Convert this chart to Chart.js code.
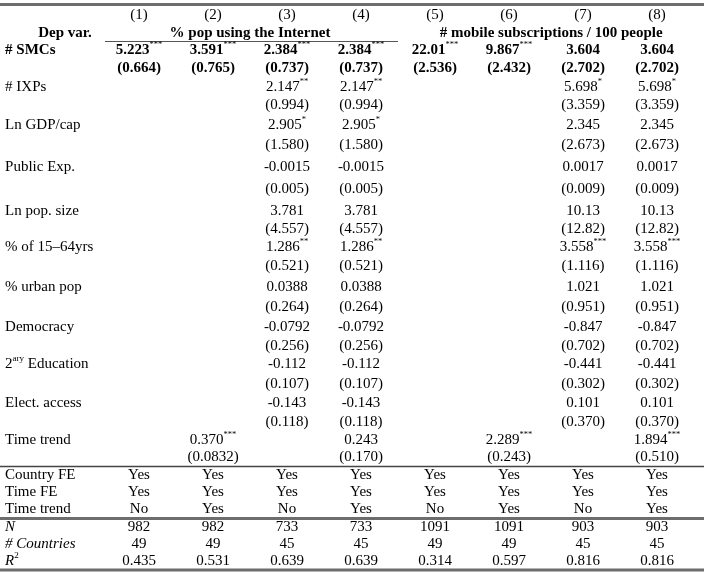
<!DOCTYPE html>
<html><head><meta charset="utf-8">
<script src="https://cdn.jsdelivr.net/npm/chart.js@4.4.0/dist/chart.umd.min.js"></script>
<style>html,body{margin:0;padding:0;background:#fff;}#wrap{width:704px;height:574px;}</style>
</head><body><div id="wrap"><canvas id="c" width="704" height="574"></canvas></div>
<script>
// ---------------- DATA ----------------
const columnLabels = ['(1)','(2)','(3)','(4)','(5)','(6)','(7)','(8)'];
const depVarTitle = 'Dep var.';
const depVarNames = ['% pop using the Internet', '# mobile subscriptions / 100 people'];
const variables = ['# SMCs','# IXPs','Ln GDP/cap','Public Exp.','Ln pop. size','% of 15–64yrs','% urban pop','Democracy','2|ary| Education','Elect. access','Time trend'];

const coefSMCs   = ['5.223','3.591','2.384','2.384','22.01','9.867','3.604','3.604'];
const starsSMCs  = [3,3,3,3,3,3,0,0];
const seSMCs     = ['(0.664)','(0.765)','(0.737)','(0.737)','(2.536)','(2.432)','(2.702)','(2.702)'];
const coefIXPs   = [null,null,'2.147','2.147',null,null,'5.698','5.698'];
const starsIXPs  = [0,0,2,2,0,0,1,1];
const seIXPs     = [null,null,'(0.994)','(0.994)',null,null,'(3.359)','(3.359)'];
const coefGDP    = [null,null,'2.905','2.905',null,null,'2.345','2.345'];
const starsGDP   = [0,0,1,1,0,0,0,0];
const seGDP      = [null,null,'(1.580)','(1.580)',null,null,'(2.673)','(2.673)'];
const coefPubExp = [null,null,'-0.0015','-0.0015',null,null,'0.0017','0.0017'];
const starsPubExp= [0,0,0,0,0,0,0,0];
const sePubExp   = [null,null,'(0.005)','(0.005)',null,null,'(0.009)','(0.009)'];
const coefPop    = [null,null,'3.781','3.781',null,null,'10.13','10.13'];
const starsPop   = [0,0,0,0,0,0,0,0];
const sePop      = [null,null,'(4.557)','(4.557)',null,null,'(12.82)','(12.82)'];
const coefAge    = [null,null,'1.286','1.286',null,null,'3.558','3.558'];
const starsAge   = [0,0,2,2,0,0,3,3];
const seAge      = [null,null,'(0.521)','(0.521)',null,null,'(1.116)','(1.116)'];
const coefUrban  = [null,null,'0.0388','0.0388',null,null,'1.021','1.021'];
const starsUrban = [0,0,0,0,0,0,0,0];
const seUrban    = [null,null,'(0.264)','(0.264)',null,null,'(0.951)','(0.951)'];
const coefDemo   = [null,null,'-0.0792','-0.0792',null,null,'-0.847','-0.847'];
const starsDemo  = [0,0,0,0,0,0,0,0];
const seDemo     = [null,null,'(0.256)','(0.256)',null,null,'(0.702)','(0.702)'];
const coefEduc   = [null,null,'-0.112','-0.112',null,null,'-0.441','-0.441'];
const starsEduc  = [0,0,0,0,0,0,0,0];
const seEduc     = [null,null,'(0.107)','(0.107)',null,null,'(0.302)','(0.302)'];
const coefElect  = [null,null,'-0.143','-0.143',null,null,'0.101','0.101'];
const starsElect = [0,0,0,0,0,0,0,0];
const seElect    = [null,null,'(0.118)','(0.118)',null,null,'(0.370)','(0.370)'];
const coefTrend  = [null,'0.370',null,'0.243',null,'2.289',null,'1.894'];
const starsTrend = [0,3,0,0,0,3,0,3];
const seTrend    = [null,'(0.0832)',null,'(0.170)',null,'(0.243)',null,'(0.510)'];

const footerLabels = ['Country FE','Time FE','Time trend','*N*','*# Countries*','*R*|2|'];
const countryFE  = ['Yes','Yes','Yes','Yes','Yes','Yes','Yes','Yes'];
const timeFE     = ['Yes','Yes','Yes','Yes','Yes','Yes','Yes','Yes'];
const timeTrend  = ['No','Yes','No','Yes','No','Yes','No','Yes'];
const nObs       = ['982','982','733','733','1091','1091','903','903'];
const nCountries = ['49','49','45','45','49','49','45','45'];
const rSquared   = ['0.435','0.531','0.639','0.639','0.314','0.597','0.816','0.816'];

// ---------------- LAYOUT (positions & styles) ----------------
const coefTable = [
  [coefSMCs,starsSMCs,seSMCs],[coefIXPs,starsIXPs,seIXPs],[coefGDP,starsGDP,seGDP],
  [coefPubExp,starsPubExp,sePubExp],[coefPop,starsPop,sePop],[coefAge,starsAge,seAge],
  [coefUrban,starsUrban,seUrban],[coefDemo,starsDemo,seDemo],[coefEduc,starsEduc,seEduc],
  [coefElect,starsElect,seElect],[coefTrend,starsTrend,seTrend]
];
const footerTable = [countryFE,timeFE,timeTrend,nObs,nCountries,rSquared];
const coefRowY = [50,87,125,167,211,247,287,327,364,403,440];
const seRowY   = [68,105,145,189,229,266,307,346,384,422,457];
const footRowY = [475,492,509,527,544,561];
const colHeadY = 15, depVarY = 33;
const labelX = -0.81;             // x-units of the row-label anchor
const depVarCenters = [2.5, 6.57];
const boldRows = [0];
const rules = [
  {y:4.5, x0:-0.88, x1:8.64, w:3, c:'#6d6d6d'},
  {y:41.5, x0:0.54, x1:4.5, w:1, c:'#555'},
  {y:466.5, x0:-0.88, x1:8.64, w:1.5, c:'#444'},
  {y:518.5, x0:-0.88, x1:8.64, w:3, c:'#6d6d6d'},
  {y:570, x0:-0.88, x1:8.64, w:3, c:'#6d6d6d'}
];
const FONT = 'Liberation Serif';
const FS = 15, SUP = 9, STAR = 8.5;

// build cells
const cells = [];
function add(x,y,text,opt){ cells.push(Object.assign({x,y,text,align:'center',bold:false,stars:0},opt||{})); }
add(0, depVarY, depVarTitle, {bold:true});
depVarNames.forEach((t,i)=>add(depVarCenters[i], depVarY, t, {bold:true}));
columnLabels.forEach((t,i)=>add(i+1, colHeadY, t));
variables.forEach((v,r)=>{
  const b = boldRows.includes(r);
  add(labelX, coefRowY[r], v, {align:'left', bold:b});
  const [coef,stars,se] = coefTable[r];
  coef.forEach((c,i)=>{ if(c!==null) add(i+1, coefRowY[r], c, {bold:b, stars:stars[i]}); });
  se.forEach((s,i)=>{ if(s!==null) add(i+1, seRowY[r], s, {bold:b}); });
});
footerLabels.forEach((l,r)=>{
  add(labelX, footRowY[r], l, {align:'left'});
  footerTable[r].forEach((v,i)=>add(i+1, footRowY[r], v));
});

// parse "*italic*" and "|sup|" markup into segments
function segs(text, stars){
  const out=[]; let italic=false, sup=false, buf='';
  const hasItalic = /\*[^*]+\*/.test(text);
  const flush=()=>{ if(buf){out.push({t:buf,italic,sup}); buf='';} };
  for(const ch of text){
    if(ch==='*' && hasItalic){ flush(); italic=!italic; continue; }
    if(ch==='|'){ flush(); sup=!sup; continue; }
    buf+=ch;
  }
  flush();
  if(stars>0) out.push({t:'*'.repeat(stars), star:true});
  return out;
}
function fontFor(s,bold){
  if(s.star) return `${STAR}px "${FONT}"`;
  return `${s.italic?'italic ':''}${bold?'bold ':''}${s.sup?SUP:FS}px "${FONT}"`;
}

const tablePlugin = {
  id:'tablePlugin',
  beforeDraw(chart){
    const ctx=chart.ctx; ctx.save(); ctx.fillStyle='#fff'; ctx.fillRect(0,0,chart.width,chart.height); ctx.restore();
  },
  afterDatasetsDraw(chart){
    const ctx=chart.ctx, xs=chart.scales.x, ys=chart.scales.y;
    ctx.save();
    rules.forEach(r=>{
      ctx.strokeStyle=r.c; ctx.lineWidth=r.w; ctx.beginPath();
      const y=ys.getPixelForValue(r.y);
      ctx.moveTo(xs.getPixelForValue(r.x0),y); ctx.lineTo(xs.getPixelForValue(r.x1),y); ctx.stroke();
    });
    ctx.fillStyle='#000'; ctx.textBaseline='middle';
    const meta=chart.getDatasetMeta(0);
    meta.data.forEach((pt,i)=>{
      const c=cells[i]; const ss=segs(c.text,c.stars);
      let w=0; ss.forEach(s=>{ctx.font=fontFor(s,c.bold); s.w=ctx.measureText(s.t).width; w+=s.w;});
      let x = c.align==='left'? pt.x : pt.x - w/2;
      ss.forEach(s=>{
        ctx.font=fontFor(s,c.bold); ctx.textAlign='left';
        let dy=0; if(s.sup) dy=-5; if(s.star) dy=-5;
        ctx.fillText(s.t, x, pt.y+dy); x+=s.w;
      });
    });
    ctx.restore();
  }
};

new Chart(document.getElementById('c'), {
  type:'scatter',
  data:{datasets:[{data:cells.map(c=>({x:c.x,y:c.y})), pointRadius:0, pointHoverRadius:0, showLine:false}]},
  options:{
    responsive:false, animation:false, devicePixelRatio:1,
    layout:{padding:0},
    events:[],
    plugins:{legend:{display:false}, tooltip:{enabled:false}},
    scales:{
      x:{type:'linear', display:false, min:-0.8784, max:8.6351},
      y:{type:'linear', display:false, min:0, max:574, reverse:true}
    }
  },
  plugins:[tablePlugin]
});
</script></body></html>
